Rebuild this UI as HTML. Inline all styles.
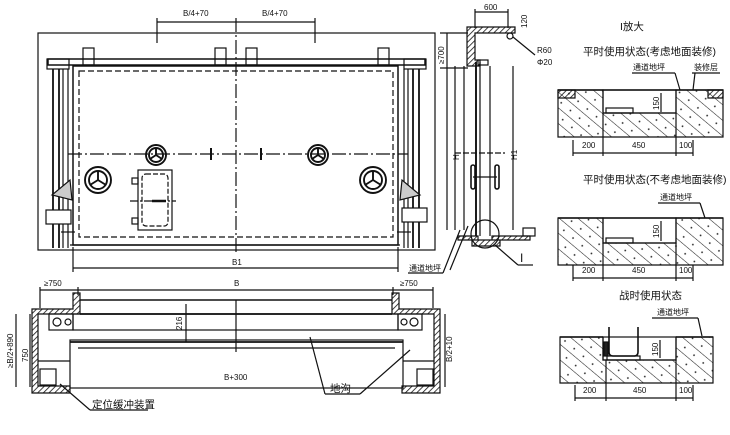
<!DOCTYPE html>
<html><head><meta charset="utf-8"><style>
html,body{margin:0;padding:0;background:#fff;}
svg{display:block;}
text{font-family:"Liberation Sans","Noto Sans CJK SC",sans-serif;fill:#111;}
.z{font-size:10.5px;}
.s{font-size:8px;}
</style></head><body>
<svg width="730" height="435" viewBox="0 0 730 435" xmlns="http://www.w3.org/2000/svg" stroke="#111" fill="none" stroke-width="1.2">
<defs>
<pattern id="h" width="4" height="4" patternUnits="userSpaceOnUse" patternTransform="rotate(45)"><line x1="0" y1="0" x2="0" y2="4" stroke="#111" stroke-width="1.6"/></pattern>
<pattern id="c" width="12" height="12" patternUnits="userSpaceOnUse" patternTransform="rotate(-50)"><line x1="0" y1="0" x2="0" y2="12" stroke="#222" stroke-width="1.1"/><circle cx="6" cy="4" r="0.9" fill="#222" stroke="none"/></pattern>
</defs>

<!-- ===== Main elevation ===== -->
<line x1="157" y1="22" x2="315" y2="22"/>
<line x1="157" y1="18" x2="157" y2="43"/><line x1="315" y1="18" x2="315" y2="43"/>
<text class="s" x="183" y="16" stroke="none">B/4+70</text>
<text class="s" x="262" y="16" stroke="none">B/4+70</text>
<rect x="38" y="33" width="397" height="217"/>
<line x1="236" y1="18" x2="236" y2="252" stroke-dasharray="14,3,2,3"/>
<rect x="48" y="59" width="377" height="6" stroke-width="1.5"/>
<rect x="83" y="48" width="11" height="17"/><rect x="215" y="48" width="11" height="17"/>
<rect x="246" y="48" width="11" height="17"/><rect x="378" y="48" width="11" height="17"/>
<rect x="47" y="59" width="22" height="10"/><rect x="404" y="59" width="22" height="10"/>
<rect x="73" y="66" width="325" height="179" stroke-width="1.5"/>
<rect x="79" y="71" width="314" height="166" stroke-dasharray="6,3"/>
<line x1="70" y1="245" x2="400" y2="245"/>
<line x1="53" y1="69" x2="53" y2="248" stroke-width="1.8"/><line x1="59" y1="69" x2="59" y2="248" stroke-width="1.8"/>
<line x1="63" y1="69" x2="63" y2="248"/><line x1="68" y1="69" x2="68" y2="248"/>
<rect x="46" y="210" width="25" height="14" fill="#fff"/>
<path d="M52 195 L70 180 L72 200 Z" fill="#ccc"/>
<line x1="61" y1="232" x2="75" y2="232"/>
<line x1="413" y1="69" x2="413" y2="248" stroke-width="1.8"/><line x1="419" y1="69" x2="419" y2="248" stroke-width="1.8"/>
<line x1="404" y1="69" x2="404" y2="248"/><line x1="408" y1="69" x2="408" y2="248"/>
<rect x="402" y="208" width="25" height="14" fill="#fff"/>
<path d="M420 195 L402 180 L400 200 Z" fill="#ccc"/>
<line x1="397" y1="232" x2="411" y2="232"/>
<line x1="68" y1="154" x2="408" y2="154" stroke-dasharray="14,3,2,3"/>
<g stroke-width="1.9">
<circle cx="156" cy="155" r="10"/><circle cx="156" cy="155" r="7"/>
<circle cx="318" cy="155" r="10"/><circle cx="318" cy="155" r="7"/>
<circle cx="98" cy="180" r="13"/><circle cx="98" cy="180" r="9"/>
<circle cx="373" cy="180" r="13"/><circle cx="373" cy="180" r="9"/>
<path d="M156 155v-7M156 155l-6 4M156 155l6 4M318 155v-7M318 155l-6 4M318 155l6 4M98 180v-9M98 180l-8 5M98 180l8 5M373 180v-9M373 180l-8 5M373 180l8 5"/>
</g>
<line x1="211" y1="148" x2="211" y2="160" stroke-width="2"/><line x1="261" y1="148" x2="261" y2="160" stroke-width="2"/>
<rect x="138" y="170" width="34" height="60"/>
<rect x="142" y="174" width="26" height="52" rx="4" stroke-dasharray="5,2"/>
<rect x="132" y="178" width="6" height="6"/><rect x="132" y="218" width="6" height="6"/>
<line x1="130" y1="201" x2="176" y2="201" stroke-dasharray="8,2,2,2"/>
<line x1="152" y1="201" x2="166" y2="201" stroke-width="2.5"/>
<line x1="73" y1="247" x2="73" y2="272"/><line x1="398" y1="247" x2="398" y2="272"/>
<line x1="73" y1="268" x2="398" y2="268"/>
<text class="s" x="232" y="265" stroke="none">B1</text>
<text class="s" x="409" y="271" stroke="none">通道地坪</text>
<line x1="408" y1="273" x2="443" y2="273"/><line x1="443" y1="273" x2="460" y2="230"/>

<!-- ===== Plan view ===== -->
<line x1="40" y1="290" x2="433" y2="290"/>
<line x1="40" y1="287" x2="40" y2="308"/><line x1="78" y1="287" x2="78" y2="295"/><line x1="393" y1="287" x2="393" y2="295"/><line x1="433" y1="287" x2="433" y2="308"/>
<text class="s" x="44" y="286" stroke="none">≥750</text>
<text class="s" x="234" y="286" stroke="none">B</text>
<text class="s" x="400" y="286" stroke="none">≥750</text>
<path d="M32 309 H73 V293 H80 V314 H38 V386 H70 V393 H32 Z" fill="url(#h)"/>
<path d="M440 309 H399 V293 H392 V314 H434 V386 H402 V393 H440 Z" fill="url(#h)"/>
<line x1="80" y1="300" x2="392" y2="300" stroke-width="1.5"/>
<line x1="80" y1="314" x2="392" y2="314" stroke-width="1.8"/>
<rect x="73" y="314" width="325" height="16"/>
<rect x="49" y="314" width="24" height="16"/><rect x="398" y="314" width="24" height="16"/>
<circle cx="57" cy="322" r="4"/><circle cx="68" cy="322" r="3"/>
<circle cx="414" cy="322" r="4"/><circle cx="404" cy="322" r="3"/>
<rect x="70" y="340" width="333" height="48"/>
<line x1="70" y1="342" x2="403" y2="342" stroke-width="1.8"/>
<line x1="78" y1="348" x2="395" y2="348"/>
<line x1="38" y1="361" x2="70" y2="361"/><line x1="403" y1="361" x2="434" y2="361"/>
<rect x="40" y="369" width="16" height="16"/><rect x="417" y="369" width="16" height="16"/>
<line x1="236" y1="300" x2="236" y2="352"/>
<line x1="186" y1="304" x2="186" y2="342"/>
<text class="s" x="0" y="0" transform="translate(182,330) rotate(-90)" stroke="none">216</text>
<text class="s" x="224" y="380" stroke="none">B+300</text>
<line x1="30" y1="314" x2="30" y2="387"/><line x1="16" y1="314" x2="16" y2="387"/>
<text class="s" x="0" y="0" transform="translate(28,362) rotate(-90)" stroke="none">750</text>
<text class="s" x="0" y="0" transform="translate(13,368) rotate(-90)" stroke="none">≥B/2+890</text>
<line x1="445" y1="314" x2="445" y2="387"/>
<text class="s" x="0" y="0" transform="translate(452,362) rotate(-90)" stroke="none">B/2+10</text>
<line x1="310" y1="337" x2="325" y2="394"/><line x1="410" y1="350" x2="360" y2="394"/>
<line x1="325" y1="394" x2="360" y2="394"/>
<text class="z" x="330" y="392" stroke="none">地沟</text>
<line x1="60" y1="384" x2="90" y2="410"/><line x1="90" y1="410" x2="148" y2="410"/>
<text class="z" x="92" y="408" stroke="none">定位缓冲装置</text>

<!-- ===== Side section ===== -->
<line x1="475" y1="12" x2="508" y2="12"/><line x1="475" y1="9" x2="475" y2="28"/><line x1="508" y1="9" x2="508" y2="28"/>
<text class="s" x="484" y="10" stroke="none">600</text>
<text class="s" x="0" y="0" transform="translate(527,28) rotate(-90)" stroke="none">120</text>
<path d="M467 27 H515 V33 H475 V60 H480 V66 H467 Z" fill="url(#h)"/>
<circle cx="510" cy="36" r="3"/>
<line x1="513" y1="37" x2="535" y2="55"/>
<text class="s" x="537" y="53" stroke="none">R60</text>
<text class="s" x="537" y="65" stroke="none">Φ20</text>
<line x1="440" y1="33" x2="468" y2="33"/><line x1="447" y1="33" x2="447" y2="230"/><line x1="440" y1="68" x2="468" y2="68"/>
<text class="s" x="0" y="0" transform="translate(444,64) rotate(-90)" stroke="none">≥700</text>
<text class="s" x="0" y="0" transform="translate(459,160) rotate(-90)" stroke="none">H</text>
<text class="s" x="0" y="0" transform="translate(517,160) rotate(-90)" stroke="none">H1</text>
<rect x="478" y="60" width="10" height="5"/>
<line x1="455" y1="66" x2="455" y2="230"/><line x1="464" y1="66" x2="464" y2="230"/>
<line x1="476" y1="62" x2="476" y2="236" stroke-width="1.9"/><line x1="480" y1="62" x2="480" y2="236"/>
<line x1="490" y1="66" x2="490" y2="236"/><line x1="513" y1="66" x2="513" y2="230"/>
<line x1="455" y1="153" x2="505" y2="153" stroke-dasharray="6,2"/>
<rect x="471" y="165" width="4" height="24" rx="2" stroke-width="1.6"/><rect x="495" y="165" width="4" height="24" rx="2" stroke-width="1.6"/>
<line x1="473" y1="177" x2="497" y2="177"/>
<circle cx="485" cy="234" r="14"/>
<path d="M458 236 H478 V240 H458 Z M492 236 H530 V240 H492 Z M472 240 H500 V246 H472 Z" fill="url(#h)"/>
<rect x="523" y="228" width="12" height="8"/>
<line x1="468" y1="226" x2="450" y2="270"/>
<line x1="495" y1="245" x2="518" y2="265"/><line x1="518" y1="265" x2="533" y2="265"/>
<text x="520" y="262" font-size="12" stroke="none">I</text>

<!-- ===== Details ===== -->
<text class="z" x="620" y="30" stroke="none">I放大</text>
<text class="z" x="583" y="55" stroke="none">平时使用状态(考虑地面装修)</text>
<text class="s" x="633" y="70" stroke="none">通道地坪</text>
<text class="s" x="694" y="70" stroke="none">装修层</text>
<line x1="632" y1="73" x2="675" y2="73"/><line x1="675" y1="73" x2="680" y2="90"/>
<line x1="692" y1="73" x2="720" y2="73"/><line x1="695" y1="73" x2="693" y2="90"/>
<path d="M558 90 H603 V113 H676 V90 H723 V137 H558 Z" fill="url(#c)"/>
<path d="M558 90 H575 V98 H558 Z M708 90 H723 V98 H708 Z" fill="url(#h)"/>
<line x1="558" y1="90" x2="723" y2="90" stroke-width="1.6"/>
<rect x="603" y="90" width="73" height="23"/>
<rect x="606" y="108" width="27" height="5"/>
<line x1="661" y1="93" x2="661" y2="112"/>
<text class="s" x="0" y="0" transform="translate(659,110) rotate(-90)" stroke="none">150</text>
<line x1="573" y1="153" x2="693" y2="153"/>
<line x1="573" y1="140" x2="573" y2="156"/><line x1="603" y1="113" x2="603" y2="156"/><line x1="676" y1="113" x2="676" y2="156"/><line x1="693" y1="140" x2="693" y2="156"/>
<text class="s" x="582" y="148" stroke="none">200</text>
<text class="s" x="632" y="148" stroke="none">450</text>
<text class="s" x="679" y="148" stroke="none">100</text>

<text class="z" x="583" y="183" stroke="none">平时使用状态(不考虑地面装修)</text>
<text class="s" x="660" y="200" stroke="none">通道地坪</text>
<line x1="658" y1="203" x2="700" y2="203"/><line x1="700" y1="203" x2="705" y2="218"/>
<path d="M558 218 H603 V243 H676 V218 H723 V265 H558 Z" fill="url(#c)"/>
<line x1="558" y1="218" x2="723" y2="218" stroke-width="1.6"/>
<rect x="603" y="218" width="73" height="25"/>
<rect x="606" y="238" width="27" height="5"/>
<line x1="661" y1="221" x2="661" y2="241"/>
<text class="s" x="0" y="0" transform="translate(659,238) rotate(-90)" stroke="none">150</text>
<line x1="573" y1="278" x2="693" y2="278"/>
<line x1="573" y1="265" x2="573" y2="281"/><line x1="603" y1="243" x2="603" y2="281"/><line x1="676" y1="243" x2="676" y2="281"/><line x1="693" y1="265" x2="693" y2="281"/>
<text class="s" x="582" y="273" stroke="none">200</text>
<text class="s" x="632" y="273" stroke="none">450</text>
<text class="s" x="679" y="273" stroke="none">100</text>

<text class="z" x="619" y="299" stroke="none">战时使用状态</text>
<text class="s" x="657" y="315" stroke="none">通道地坪</text>
<line x1="652" y1="318" x2="698" y2="318"/><line x1="698" y1="318" x2="702" y2="336"/>
<path d="M560 337 H603 V360 H676 V337 H713 V383 H560 Z" fill="url(#c)"/>
<line x1="560" y1="337" x2="603" y2="337" stroke-width="1.6"/><line x1="676" y1="337" x2="713" y2="337" stroke-width="1.6"/>
<rect x="603" y="337" width="73" height="23"/>
<path d="M609 327 V352 Q609 356 613 356 H634 Q638 356 638 352 V327" stroke-width="1.6"/>
<rect x="607" y="356" width="33" height="4"/>
<rect x="604" y="342" width="4" height="14" fill="#222"/>
<line x1="660" y1="340" x2="660" y2="358"/>
<text class="s" x="0" y="0" transform="translate(658,356) rotate(-90)" stroke="none">150</text>
<line x1="575" y1="398" x2="693" y2="398"/>
<line x1="575" y1="385" x2="575" y2="401"/><line x1="606" y1="360" x2="606" y2="401"/><line x1="676" y1="360" x2="676" y2="401"/><line x1="693" y1="385" x2="693" y2="401"/>
<text class="s" x="583" y="393" stroke="none">200</text>
<text class="s" x="633" y="393" stroke="none">450</text>
<text class="s" x="679" y="393" stroke="none">100</text>
</svg>
</body></html>
